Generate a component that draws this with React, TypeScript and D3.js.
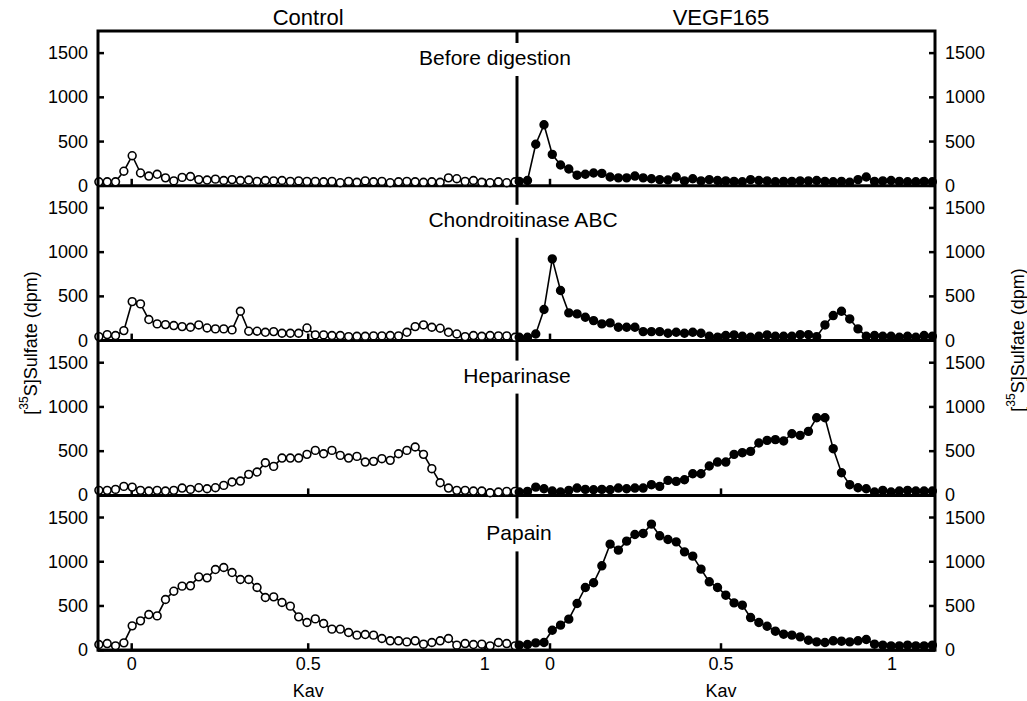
import React from 'react';
import * as d3 from 'd3';

// fraction numbers (51 per column) and the panels
const fractions = d3.range(51);
const panelNames = ['Before digestion', 'Chondroitinase ABC', 'Heparinase', 'Papain'];
const columnNames = ['Control', 'VEGF165'];
const yTicks = [0, 500, 1000, 1500];
const kavTicks = [0, 0.5, 1];
const kavTickLabels = ['0', '0.5', '1'];

// [35S]Sulfate (dpm) per fraction
const controlBefore = [45,45,45,165,340,145,110,130,90,55,95,105,70,65,75,60,70,60,65,50,60,55,60,50,55,50,50,45,50,35,50,40,55,45,50,35,45,50,45,40,45,40,90,80,50,60,40,35,45,35,45];
const vegfBefore = [50,60,470,690,355,235,190,120,130,145,140,100,90,90,110,90,80,70,65,100,55,80,55,70,60,55,50,45,70,60,55,45,50,50,55,55,60,50,45,50,40,70,100,50,55,60,50,45,45,50,45];
const controlChabc = [45,68,57,113,441,415,238,189,181,170,158,151,177,143,132,132,121,332,106,106,94,102,83,83,83,143,64,64,57,57,45,49,49,53,53,57,53,94,158,177,151,140,94,75,45,57,49,57,53,53,38];
const vegfChabc = [38,38,75,351,924,566,313,302,264,226,189,200,151,151,151,102,102,102,83,94,83,94,83,49,38,57,64,49,38,49,64,49,49,49,68,68,45,177,283,332,245,132,49,57,49,49,38,49,38,57,49];
const controlHep = [57,57,68,102,94,57,49,57,49,57,83,68,87,75,87,113,151,162,238,264,369,328,422,422,422,464,509,471,509,452,422,441,377,385,415,396,471,509,547,464,302,143,83,57,57,49,49,30,38,45,45];
const vegfHep = [38,45,94,75,49,38,57,83,68,64,68,64,83,75,83,83,121,102,170,158,177,245,245,332,377,377,464,483,498,592,622,630,615,697,679,724,878,878,528,256,121,87,75,38,57,38,49,57,49,49,49];
const controlPapain = [64,75,49,83,275,332,403,388,573,667,724,728,829,818,912,935,878,799,799,709,596,603,539,498,377,313,354,302,238,238,200,170,177,170,132,106,106,94,106,68,87,106,132,57,75,64,68,49,87,75,49];
const vegfPapain = [57,64,83,87,226,283,351,528,709,762,954,1199,1131,1233,1308,1320,1425,1293,1252,1225,1112,1063,916,773,709,622,535,509,369,313,271,215,181,170,151,113,94,87,106,102,94,106,121,68,57,49,49,57,49,49,57];

const controlSeries = [controlBefore, controlChabc, controlHep, controlPapain];
const vegfSeries = [vegfBefore, vegfChabc, vegfHep, vegfPapain];

// layout
const W = 1027, H = 701;
const left = 98, mid = 517, right = 935;
const top = 31, panelH = 154.8;
const font = '"Liberation Sans", Arial, Helvetica, sans-serif';
const labelDy = [34, 41, 42, 45];
const labelCx = [495, 523, 517, 519];

const kavL = d3.scaleLinear().domain([-0.0955, 1.0915]).range([left, mid]);
const kavR = d3.scaleLinear().domain([-0.0965, 1.1257]).range([mid, right]);
const fracKavL = d3.scaleLinear().domain([0, 50]).range([-0.093, 1.086]);
const fracKavR = d3.scaleLinear().domain([0, 50]).range([-0.09, 1.118]);

const Series = ({ values, x, y, open }) => {
  const line = d3.line().x((d, i) => x(i)).y(d => y(d));
  return (
    <g>
      <path d={line(values)} fill="none" stroke="#000" strokeWidth={1.6} />
      {values.map((v, i) => (
        <circle key={i} cx={x(i)} cy={y(v)} r={3.9}
          fill={open ? '#fff' : '#000'} stroke="#000" strokeWidth={1.6} />
      ))}
    </g>
  );
};

const YLabel = ({ x, y }) => (
  <text transform={`translate(${x},${y}) rotate(-90)`} textAnchor="middle"
    fontSize={18} fontFamily={font} dominantBaseline="central">
    [<tspan fontSize={12} dy={-7}>35</tspan><tspan dy={7}>S]Sulfate (dpm)</tspan>
  </text>
);

export default function App() {
  const xL = (i: number) => kavL(fracKavL(i));
  const xR = (i: number) => kavR(fracKavR(i));
  const bottom = top + panelH * 4;
  return (
    <svg width={W} height={H} style={{ position: 'absolute', left: 0, top: 0 }}
      fontFamily={font}>
      <rect width={W} height={H} fill="#fff" />
      <text x={kavL(0.5)} y={25} textAnchor="middle" fontSize={22}>{columnNames[0]}</text>
      <text x={kavR(0.5)} y={25} textAnchor="middle" fontSize={22}>{columnNames[1]}</text>

      {panelNames.map((name, p) => {
        const pTop = top + p * panelH;
        const pBot = pTop + panelH;
        const y = d3.scaleLinear().domain([0, 1750]).range([pBot, pTop]);
        const base = pTop + labelDy[p];
        return (
          <g key={name}>
            {/* divider with a gap for the label */}
            <line x1={mid} x2={mid} y1={pTop} y2={pBot} stroke="#000" strokeWidth={3} />
            <rect x={mid - 5} y={base - 22} width={10} height={33} fill="#fff" />
            <text x={labelCx[p]} y={base} textAnchor="middle" fontSize={21}>{name}</text>

            {yTicks.map(t => (
              <g key={t}>
                <line x1={left} x2={left + 6} y1={y(t)} y2={y(t)} stroke="#000" strokeWidth={2.5} />
                <line x1={right - 6} x2={right} y1={y(t)} y2={y(t)} stroke="#000" strokeWidth={2.5} />
                <text x={left - 10} y={y(t)} textAnchor="end" dominantBaseline="central" fontSize={18}>{t}</text>
                <text x={right + 10} y={y(t)} textAnchor="start" dominantBaseline="central" fontSize={18}>{t}</text>
              </g>
            ))}
            {kavTicks.map(k => (
              <g key={k}>
                <line x1={kavL(k)} x2={kavL(k)} y1={pBot} y2={pBot - 7} stroke="#000" strokeWidth={2.5} />
                <line x1={kavR(k)} x2={kavR(k)} y1={pBot} y2={pBot - 7} stroke="#000" strokeWidth={2.5} />
              </g>
            ))}
            <line x1={left} x2={right} y1={pBot} y2={pBot} stroke="#000" strokeWidth={3} />

            <Series values={controlSeries[p]} x={xL} y={y} open />
            <Series values={vegfSeries[p]} x={xR} y={y} open={false} />
          </g>
        );
      })}

      <rect x={left} y={top} width={right - left} height={bottom - top} fill="none" stroke="#000" strokeWidth={3} />

      {kavTicks.map((k, i) => (
        <g key={k}>
          <text x={kavL(k)} y={670} textAnchor="middle" fontSize={18}>{kavTickLabels[i]}</text>
          <text x={kavR(k)} y={670} textAnchor="middle" fontSize={18}>{kavTickLabels[i]}</text>
        </g>
      ))}
      <text x={kavL(0.5)} y={697} textAnchor="middle" fontSize={18}>Kav</text>
      <text x={kavR(0.5)} y={697} textAnchor="middle" fontSize={18}>Kav</text>

      <YLabel x={31} y={343} />
      <YLabel x={1018} y={340} />
    </svg>
  );
}
